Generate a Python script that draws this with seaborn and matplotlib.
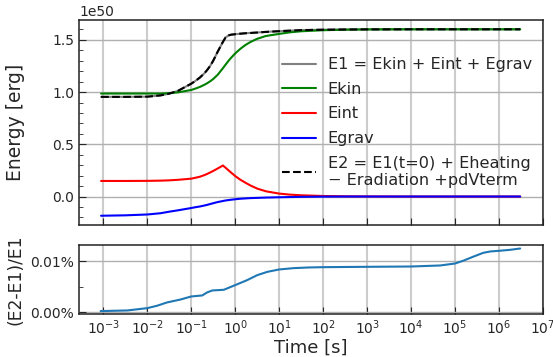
import numpy as np
import matplotlib
matplotlib.use("Agg")
import matplotlib.pyplot as plt
import matplotlib.ticker as mticker
import seaborn as sns

# log10 of time [s] for the energy curves
log_t = [-3.05, -2.5, -2.0, -1.7, -1.5, -1.3, -1.0, -0.9, -0.8, -0.7, -0.64, -0.57, -0.5, -0.4, -0.28,
         -0.22, -0.15, -0.1, 0.0, 0.12, 0.23, 0.35, 0.5, 0.7, 1.0, 1.25, 1.5, 2.0,
         2.5, 3.0, 4.0, 5.0, 6.0, 6.48]

# energies in units of 1e50 erg
e_kin = [0.986, 0.986, 0.986, 0.986, 0.99, 0.997, 1.02, 1.034, 1.05, 1.07, 1.084, 1.103, 1.125, 1.165, 1.228,
         1.262, 1.30, 1.325, 1.37, 1.415, 1.45, 1.48, 1.51, 1.537, 1.557, 1.572, 1.582, 1.592,
         1.597, 1.6, 1.601, 1.601, 1.601, 1.601]
e_int = [0.149, 0.149, 0.15, 0.152, 0.155, 0.16, 0.171, 0.18, 0.19, 0.205, 0.216, 0.23, 0.245, 0.268, 0.297,
         0.276, 0.25, 0.232, 0.196, 0.16, 0.133, 0.105, 0.076, 0.05, 0.028, 0.018, 0.012, 0.005,
         0.002, 0.001, 0.0, 0.0, 0.0, 0.0]
e_grav = [-0.184, -0.18, -0.172, -0.16, -0.145, -0.132, -0.11, -0.102, -0.095, -0.086, -0.08, -0.072, -0.064, -0.053, -0.043,
          -0.038, -0.034, -0.031, -0.026, -0.021, -0.018, -0.015, -0.013, -0.01, -0.007, -0.005, -0.003, -0.001,
          0.0, 0.0, 0.0, 0.0, 0.0, 0.0]
# E1 and E2 agree to ~0.01 %, so they sit on top of each other
e_tot = [0.954, 0.954, 0.956, 0.968, 0.985, 1.012, 1.08, 1.108, 1.14, 1.18, 1.21, 1.25, 1.30, 1.385, 1.48,
         1.522, 1.542, 1.549, 1.554, 1.559, 1.563, 1.566, 1.57, 1.576, 1.583, 1.588, 1.593, 1.597,
         1.599, 1.6, 1.601, 1.601, 1.601, 1.601]

# relative difference (E2-E1)/E1, in units of 1e-4
log_t_rel = [-3.06, -2.45, -2.0, -1.78, -1.55, -1.24, -1.0, -0.75, -0.64, -0.52, -0.26, 0.0,
             0.27, 0.5, 0.73, 1.0, 1.33, 1.67, 2.0, 3.0, 4.0, 4.66, 5.0, 5.19, 5.42, 5.64,
             5.8, 6.0, 6.25, 6.48]
rel_diff = [0.02, 0.033, 0.078, 0.124, 0.19, 0.248, 0.307, 0.327, 0.386, 0.425, 0.438, 0.53,
            0.627, 0.725, 0.79, 0.837, 0.863, 0.876, 0.882, 0.889, 0.895, 0.915, 0.954, 1.01, 1.09, 1.163,
            1.19, 1.203, 1.222, 1.248]

sns.set_style("ticks")
plt.rcParams['font.family'] = ['DejaVu Sans']

t = 10 ** np.array(log_t)
t_rel = 10 ** np.array(log_t_rel)
scale = 1e50

fig, (ax, ax2) = plt.subplots(2, 1, figsize=(5.53, 3.57), dpi=100, sharex=True,
                              gridspec_kw={'height_ratios': [3, 1], 'hspace': 0.146})
fig.subplots_adjust(left=0.143, right=0.982, top=0.944, bottom=0.121)

sns.lineplot(x=t, y=np.array(e_tot) * scale, ax=ax, color='gray', lw=1.5,
             label='E1 = Ekin + Eint + Egrav')
sns.lineplot(x=t, y=np.array(e_kin) * scale, ax=ax, color='g', lw=1.5, label='Ekin')
sns.lineplot(x=t, y=np.array(e_int) * scale, ax=ax, color='r', lw=1.5, label='Eint')
sns.lineplot(x=t, y=np.array(e_grav) * scale, ax=ax, color='b', lw=1.5, label='Egrav')
sns.lineplot(x=t, y=np.array(e_tot) * scale, ax=ax, color='k', lw=1.5, linestyle='--',
             label='E2 = E1(t=0) + Eheating\n\u2212 Eradiation +pdVterm')

sns.lineplot(x=t_rel, y=np.array(rel_diff) * 1e-4, ax=ax2, color='#1f77b4', lw=1.5)

ax.set_xscale('log')
ax.set_xlim(10 ** -3.55, 1e7)
ax.set_ylim(-0.276e50, 1.69e50)
ax.yaxis.set_major_locator(mticker.MultipleLocator(0.5e50))
ax.yaxis.set_minor_locator(mticker.MultipleLocator(0.1e50))
ax.set_ylabel('Energy [erg]', fontsize=13.5)
ax.legend(loc='center right', frameon=False, fontsize=11.6, handlelength=2.1,
          handletextpad=0.75, labelspacing=0.6, borderaxespad=0.3)

ax2.set_ylim(-0.033e-4, 1.31e-4)
ax2.yaxis.set_major_locator(mticker.MultipleLocator(1e-4))
ax2.yaxis.set_minor_locator(mticker.MultipleLocator(0.5e-4))
ax2.yaxis.set_major_formatter(mticker.PercentFormatter(xmax=1, decimals=2))
ax2.set_ylabel('(E2-E1)/E1', fontsize=12.3)
ax2.set_xlabel('Time [s]', fontsize=13, labelpad=1)
ax2.xaxis.set_major_locator(mticker.LogLocator(base=10, numticks=20))
ax2.xaxis.set_minor_locator(mticker.NullLocator())

for a in (ax, ax2):
    a.xaxis.grid(True, color='#cccccc', lw=1.5)
    a.yaxis.grid(True, color='#b0b0b0', lw=1.0)
    a.tick_params(which='both', direction='in', labelsize=10)
    a.tick_params(which='major', length=5)
    a.tick_params(which='minor', length=3)
    for s in a.spines.values():
        s.set_color('#222222')
        s.set_linewidth(1.1)
ax.tick_params(axis='x', labelbottom=False)
fig.align_ylabels([ax, ax2])

fig.savefig('out.png', dpi=100)
